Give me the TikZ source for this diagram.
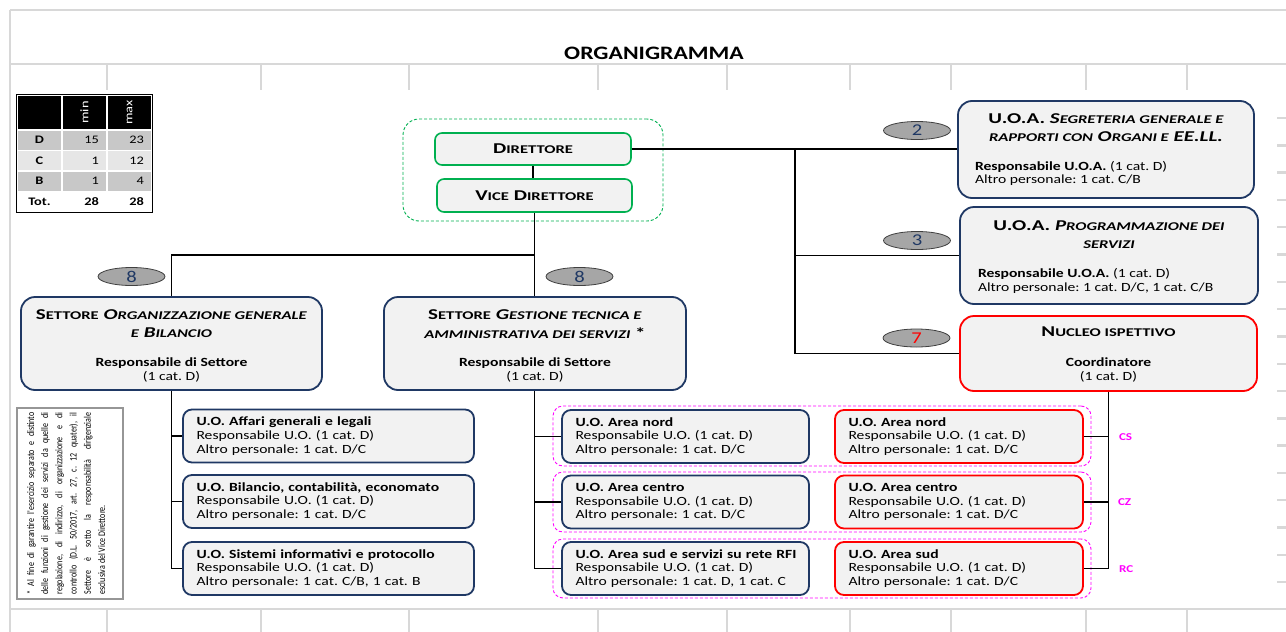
\documentclass[tikz,border=0pt]{standalone}
\usepackage{graphicx}
\usepackage{fontspec}
\setmainfont{Carlito}[FakeStretch=1.25]
\newfontfamily\sectfont{Carlito}[FakeStretch=1.4]
\newfontfamily\notefont{Carlito}[FakeStretch=0.8]
\usetikzlibrary{shapes.geometric,calc}
\definecolor{navy}{RGB}{31,56,100}
\definecolor{boxfill}{RGB}{242,242,242}
\definecolor{gridgray}{RGB}{216,216,216}
\definecolor{grn}{RGB}{0,176,80}
\definecolor{mag}{RGB}{255,0,255}
\definecolor{ellgray}{RGB}{166,166,166}
\definecolor{rowdark}{RGB}{200,200,200}
\definecolor{rowlight}{RGB}{230,230,230}
\definecolor{notegray}{RGB}{150,150,150}
\makeatletter
\newcommand\smc[1]{{\fontsize{\strip@pt\dimexpr0.79\dimexpr\f@size pt\relax\relax}{\f@baselineskip}\selectfont #1}}
\makeatother
\frenchspacing
\newcommand\ftitle{\fontsize{19}{22}\selectfont\bfseries}
\newcommand\fhead{\sectfont\fontsize{15}{18}\selectfont\bfseries}
\newcommand\fsect{\sectfont\fontsize{15}{18}\selectfont\bfseries}
\newcommand\fbody{\fontsize{12.5}{13.8}\selectfont}
\newcommand\fnum{\fontsize{16.5}{18}\selectfont}
\newcommand\ftab{\fontsize{11.5}{13}\selectfont}
\newcommand\nl[1]{\makebox[182pt][s]{#1}\\}
\tikzset{
  gridline/.style={draw=gridgray, line width=2.4pt},
  conn/.style={draw=black, line width=1.8pt},
  txt/.style={inner sep=0pt, outer sep=0pt},
  bigbox/.style={draw=#1, fill=boxfill, line width=1.8pt, rounded corners=14pt, inner sep=0pt},
  uobox/.style={draw=#1, fill=boxfill, line width=1.8pt, rounded corners=9pt, minimum height=53pt,
    inner xsep=13.5pt, inner ysep=0pt, align=left, font=\fbody},
  headbox/.style={draw=grn, fill=boxfill, line width=1.6pt, rounded corners=7pt, inner sep=0pt, font=\fhead},
  group/.style={draw=#1, densely dashed, line width=0.9pt, rounded corners=10pt, inner sep=0pt},
  badge/.style={ellipse, draw=black!75, line width=0.8pt, fill=ellgray, minimum width=67pt, minimum height=18pt, inner sep=0pt, font=\fnum},
  cell/.style={draw=white, line width=1.2pt, inner sep=0pt, font=\ftab},
  numcell/.style={cell, minimum width=45pt, text width=29pt, inner xsep=8pt, align=right},
  lbl/.style={txt, text=mag, font=\fontsize{10.5}{12}\selectfont\bfseries},
}
\begin{document}
\begin{tikzpicture}[x=1pt,y=-1pt,font=\fbody]
\useasboundingbox (0,0) rectangle (1286,632);
% spreadsheet grid
\draw[gridline] (10,10) -- (1286,10);
\draw[gridline] (10,64) -- (1286,64);
\draw[gridline] (10,10) -- (10,632);
\draw[gridline] (10,609) -- (1286,609);
\foreach \x in {107,261,409,598,727,850,951,1086,1187}{
  \draw[gridline] (\x,64) -- (\x,90);
  \draw[gridline] (\x,609) -- (\x,632);
}
\foreach \k in {0,...,17}{\draw[gridline] (1277,118+27.3*\k) -- (1286,118+27.3*\k);}
% title
\node[txt, anchor=base, font=\ftitle] (title) at (654,59) {ORGANIGRAMMA};
% table
\node[cell, fill=black, minimum width=45pt, minimum height=35pt] (h0) at (39.5,112.5) {};
\node[cell, fill=black, minimum width=45pt, minimum height=35pt, text=white] (h1) at (84.5,112.5) {\rotatebox{90}{min}};
\node[cell, fill=black, minimum width=45pt, minimum height=35pt, text=white] (h2) at (129.5,112.5) {\rotatebox{90}{max}};
\node[cell, fill=rowdark, minimum width=45pt, minimum height=20.5pt, font=\ftab\bfseries] (d0) at (39.5,140.25) {D};
\node[numcell, fill=rowdark, minimum height=20.5pt] (d1) at (84.5,140.25) {15};
\node[numcell, fill=rowdark, minimum height=20.5pt] (d2) at (129.5,140.25) {23};
\node[cell, fill=rowlight, minimum width=45pt, minimum height=20.5pt, font=\ftab\bfseries] (c0) at (39.5,160.75) {C};
\node[numcell, fill=rowlight, minimum height=20.5pt] (c1) at (84.5,160.75) {1};
\node[numcell, fill=rowlight, minimum height=20.5pt] (c2) at (129.5,160.75) {12};
\node[cell, fill=rowdark, minimum width=45pt, minimum height=20.5pt, font=\ftab\bfseries] (b0) at (39.5,181.25) {B};
\node[numcell, fill=rowdark, minimum height=20.5pt] (b1) at (84.5,181.25) {1};
\node[numcell, fill=rowdark, minimum height=20.5pt] (b2) at (129.5,181.25) {4};
\node[cell, fill=white, minimum width=45pt, minimum height=20.5pt, font=\ftab\bfseries] (t0) at (39.5,201.75) {Tot.};
\node[numcell, fill=white, minimum height=20.5pt, font=\ftab\bfseries] (t1) at (84.5,201.75) {28};
\node[numcell, fill=white, minimum height=20.5pt, font=\ftab\bfseries] (t2) at (129.5,201.75) {28};
\draw[black, line width=1.4pt] (h0.north west) rectangle (t2.south east);
% direzione
\node[group=grn, minimum width=260pt, minimum height=102pt, rounded corners=16pt] (dirgroup) at (533,170) {};
\node[headbox, minimum width=196pt, minimum height=32pt] (dir) at (533,149) {D\smc{IRETTORE}};
\node[headbox, minimum width=195pt, minimum height=33pt] (vice) at (534.5,195.5) {V\smc{ICE} D\smc{IRETTORE}};
% U.O.A. boxes
\node[bigbox=navy, minimum width=296pt, minimum height=97pt] (uoa1) at (1106,149.5) {};
\node[txt, anchor=base, font=\fsect] (uoa1a) at (1106,123.3) {U.O.A. \textit{S\smc{EGRETERIA GENERALE E}}};
\node[txt, anchor=base, font=\fsect] (uoa1b) at (1106,141.7) {\textit{\smc{RAPPORTI CON} O\smc{RGANI E} EE.LL.}};
\node[txt, anchor=base west] (uoa1c) at (975,170) {\textbf{Responsabile U.O.A.} (1 cat. D)};
\node[txt, anchor=base west] (uoa1d) at (975,183.5) {Altro personale: 1 cat. C/B};
\node[bigbox=navy, minimum width=298pt, minimum height=97pt] (uoa2) at (1109,255.5) {};
\node[txt, anchor=base, font=\fsect] (uoa2a) at (1109,230) {U.O.A. \textit{P\smc{ROGRAMMAZIONE DEI}}};
\node[txt, anchor=base, font=\fsect] (uoa2b) at (1109,248.3) {\textit{\smc{SERVIZI}}};
\node[txt, anchor=base west] (uoa2c) at (978,277.7) {\textbf{Responsabile U.O.A.} (1 cat. D)};
\node[txt, anchor=base west] (uoa2d) at (978,291) {Altro personale: 1 cat. D/C, 1 cat. C/B};
\node[bigbox=red, minimum width=297pt, minimum height=75pt] (nuc) at (1108.5,353.5) {};
\node[txt, anchor=base, font=\fsect] (nuca) at (1108.5,336.7) {N\smc{UCLEO ISPETTIVO}};
\node[txt, anchor=base, font=\fbody\bfseries] (nucb) at (1108.5,366) {Coordinatore};
\node[txt, anchor=base] (nucc) at (1108.5,380.7) {(1 cat. D)};
% badges
\node[badge] (n2) at (917,130.5) {\textcolor{navy}{2}};
\node[badge] (n3) at (917,240.5) {\textcolor{navy}{3}};
\node[badge] (n7) at (916.5,338) {\textcolor{red}{7}};
\node[badge] (n8a) at (131.5,276.5) {\textcolor{navy}{8}};
\node[badge] (n8b) at (579.5,276.5) {\textcolor{navy}{8}};
% settori
\node[bigbox=navy, minimum width=301pt, minimum height=93pt] (sett1) at (171.5,343.5) {};
\node[txt, anchor=base, font=\fsect] (s1a) at (171.5,319.3) {S\smc{ETTORE} \textit{O\smc{RGANIZZAZIONE GENERALE}}};
\node[txt, anchor=base, font=\fsect] (s1b) at (171.5,337.3) {\textit{\smc{E} B\smc{ILANCIO}}};
\node[txt, anchor=base, font=\fbody\bfseries] (s1c) at (171.5,366.7) {Responsabile di Settore};
\node[txt, anchor=base] (s1d) at (171.5,380.7) {(1 cat. D)};
\node[bigbox=navy, minimum width=302pt, minimum height=93pt] (sett2) at (535,343.5) {};
\node[txt, anchor=base, font=\fsect] (s2a) at (535,319) {S\smc{ETTORE} \textit{G\smc{ESTIONE TECNICA E}}};
\node[txt, anchor=base, font=\fsect] (s2b) at (535,338.3) {\textit{\smc{AMMINISTRATIVA DEI SERVIZI}} *};
\node[txt, anchor=base, font=\fbody\bfseries] (s2c) at (535,366.7) {Responsabile di Settore};
\node[txt, anchor=base] (s2d) at (535,380.7) {(1 cat. D)};
% note
\node[draw=notegray, line width=1.2pt, minimum width=106pt, minimum height=191pt] (note) at (70,503.5) {};
\node[txt, rotate=90] (notetxt) at (66,503.5) {\parbox{182pt}{\notefont\fontsize{10}{14.2}\selectfont
\nl{* Al fine di garantire l'esercizio separato e distinto}
\nl{delle funzioni di gestione dei servizi da quelle di}
\nl{regolazione, di indirizzo, di organizzazione e di}
\nl{controllo (D.L. 50/2017, art. 27, c. 12 quater), il}
\nl{Settore è sotto la responsabilità dirigenziale}
esclusiva del Vice Direttore.}};
% U.O. left
\node[uobox=navy, minimum width=291pt, text width=264pt] (uoL1) at (328.5,436) {\textbf{U.O. Affari generali e legali}\\Responsabile U.O. (1 cat. D)\\Altro personale: 1 cat. D/C};
\node[uobox=navy, minimum width=291pt, text width=264pt] (uoL2) at (328.5,501.5) {\textbf{U.O. Bilancio, contabilità, economato}\\Responsabile U.O. (1 cat. D)\\Altro personale: 1 cat. D/C};
\node[uobox=navy, minimum width=291pt, text width=264pt] (uoL3) at (328.5,568.5) {\textbf{U.O. Sistemi informativi e protocollo}\\Responsabile U.O. (1 cat. D)\\Altro personale: 1 cat. C/B, 1 cat. B};
% groups
\node[group=mag, minimum width=538pt, minimum height=60pt] (gCS) at (822,436) {};
\node[group=mag, minimum width=538pt, minimum height=60pt] (gCZ) at (822,502) {};
\node[group=mag, minimum width=538pt, minimum height=59pt] (gRC) at (822,568.5) {};
% U.O. middle
\node[uobox=navy, minimum width=247pt, text width=220pt] (uoM1) at (685.5,436.5) {\textbf{U.O. Area nord}\\Responsabile U.O. (1 cat. D)\\Altro personale: 1 cat. D/C};
\node[uobox=navy, minimum width=247pt, text width=220pt] (uoM2) at (685.5,502) {\textbf{U.O. Area centro}\\Responsabile U.O. (1 cat. D)\\Altro personale: 1 cat. D/C};
\node[uobox=navy, minimum width=247pt, text width=220pt] (uoM3) at (685.5,568.5) {\textbf{\mbox{U.O. Area sud e servizi su rete RFI}}\\Responsabile U.O. (1 cat. D)\\Altro personale: 1 cat. D, 1 cat. C};
% U.O. right
\node[uobox=red, minimum width=248pt, text width=221pt] (uoR1) at (959,436.5) {\textbf{U.O. Area nord}\\Responsabile U.O. (1 cat. D)\\Altro personale: 1 cat. D/C};
\node[uobox=red, minimum width=248pt, text width=221pt] (uoR2) at (959,502) {\textbf{U.O. Area centro}\\Responsabile U.O. (1 cat. D)\\Altro personale: 1 cat. D/C};
\node[uobox=red, minimum width=248pt, text width=221pt] (uoR3) at (959,568.5) {\textbf{U.O. Area sud}\\Responsabile U.O. (1 cat. D)\\Altro personale: 1 cat. D/C};
% labels
\node[lbl, anchor=west] (cs) at (1119,437) {CS};
\node[lbl, anchor=west] (cz) at (1118,502) {CZ};
\node[lbl, anchor=west] (rc) at (1119,569) {RC};
% connectors
\coordinate (j1) at (795,149);
\coordinate (j2) at (534,255);
\draw[conn] (dir.east) -- (dir.east -| uoa1.west);
\draw[conn] (j1) |- (nuc.west);
\draw[conn] (j1 |- uoa2.west) -- (uoa2.west);
\draw[conn] (dir.south) -- (dir.south |- vice.north);
\draw[conn] (vice.south) -- (vice.south |- sett2.north);
\draw[conn] (vice.south |- j2) -| (sett1.north);
\draw[conn] (sett1.south) |- (uoL3.west);
\draw[conn] (sett1.south |- uoL1.west) -- (uoL1.west);
\draw[conn] (sett1.south |- uoL2.west) -- (uoL2.west);
\draw[conn] (vice.south |- sett2.south) |- (uoM3.west);
\draw[conn] (vice.south |- uoM1.west) -- (uoM1.west);
\draw[conn] (vice.south |- uoM2.west) -- (uoM2.west);
\draw[conn] (nuc.south) |- (uoR3.east);
\draw[conn] (nuc.south |- uoR1.east) -- (uoR1.east);
\draw[conn] (nuc.south |- uoR2.east) -- (uoR2.east);
\end{tikzpicture}
\end{document}
